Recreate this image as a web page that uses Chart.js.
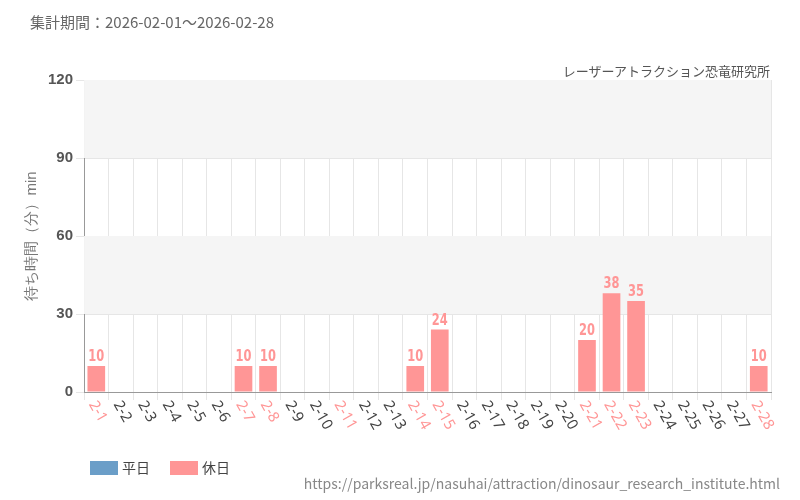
<!DOCTYPE html>
<html><head><meta charset="utf-8">
<script src="https://cdn.jsdelivr.net/npm/chart.js@4/dist/chart.umd.min.js"></script>
<style>
body{margin:0;width:800px;height:500px;background:#fff;font-family:"Noto Sans CJK JP","Noto Sans",sans-serif;position:relative;overflow:hidden}
#t{position:absolute;left:30px;top:11px;font-size:15px;color:#666}
#s{position:absolute;right:30px;top:61px;font-size:13px;color:#555}
#u{position:absolute;right:20px;top:473px;font-size:14px;color:#888}
#lg{position:absolute;left:90px;top:457px;font-size:14px;color:#444;display:flex;gap:20px}
#lg span i{display:inline-block;width:28px;height:14px;vertical-align:-2px;margin-right:4px}
#w{position:absolute;left:0;top:0;width:800px;height:500px}
</style></head><body>
<div id="w"><canvas id="c" width="800" height="500"></canvas></div>
<div id="t">集計期間：2026-02-01～2026-02-28</div>
<div id="s">レーザーアトラクション恐竜研究所</div>
<div id="lg"><span><i style="background:#6b9ec8"></i>平日</span><span><i style="background:#ff9696"></i>休日</span></div>
<div id="u">https://parksreal.jp/nasuhai/attraction/dinosaur_research_institute.html</div>
<script>
const labels=[];for(let i=1;i<=28;i++)labels.push('2-'+i);
const holidays=['2-1','2-7','2-8','2-11','2-14','2-15','2-21','2-22','2-23','2-28'];
const holidayValues={'2-1':10,'2-7':10,'2-8':10,'2-14':10,'2-15':24,'2-21':20,'2-22':38,'2-23':35,'2-28':10};
const weekdayData=labels.map(()=>null);
const holidayData=labels.map(l=>holidayValues[l]??null);
const yTicks=[0,30,60,90,120];
const pink='#ff9696',blue='#6b9ec8';
const bands={id:'bands',beforeDatasetsDraw(ch){const {ctx,chartArea:a,scales:{y}}=ch;ctx.save();ctx.fillStyle='#f5f5f5';
[[30,60],[90,120]].forEach(([lo,hi])=>{ctx.fillRect(a.left,y.getPixelForValue(hi),a.right-a.left,y.getPixelForValue(lo)-y.getPixelForValue(hi));});ctx.restore();}};
const lbl={id:'lbl',afterDatasetsDraw(ch){const {ctx,scales:{x},chartArea:a}=ch;const m=ch.getDatasetMeta(1);ctx.save();ctx.fillStyle=pink;ctx.font='bold 15px "DejaVu Sans Condensed",sans-serif';ctx.textAlign='center';ctx.textBaseline='bottom';
m.data.forEach((b,i)=>{const v=holidayData[i];if(v!=null){ctx.save();ctx.translate(b.x,b.y-1);ctx.scale(0.85,1.1);ctx.fillText(v,0,0);ctx.restore();}});
ctx.font='15px "Noto Sans",sans-serif';ctx.textAlign='left';ctx.textBaseline='middle';
labels.forEach((l,i)=>{ctx.save();ctx.translate(x.getPixelForValue(i)-4,a.bottom+10);ctx.rotate(Math.PI/3);ctx.fillStyle=holidays.includes(l)?pink:'#444';ctx.fillText(l,0,0);ctx.restore();});
ctx.restore();}};
new Chart(document.getElementById('c'),{type:'bar',
data:{labels,datasets:[{label:'平日',data:weekdayData,backgroundColor:blue},{label:'休日',data:holidayData,backgroundColor:pink}]},
options:{responsive:false,animation:false,layout:{padding:{top:80,right:29,left:19,bottom:100}},
plugins:{legend:{display:false},tooltip:{enabled:false}},
scales:{x:{stacked:true,categoryPercentage:0.8,barPercentage:1,grid:{color:'#e6e6e6'},border:{color:'#999'},ticks:{display:false}},
y:{stacked:true,min:0,max:120,afterBuildTicks:s=>{s.ticks=yTicks.map(v=>({value:v}));},grid:{color:'#e6e6e6'},border:{color:'#999'},
ticks:{font:{size:15,weight:'bold'},color:'#555'},title:{display:true,text:'待ち時間（分）min',font:{size:15},color:'#777'}}}},
plugins:[bands,lbl]});
</script></body></html>
